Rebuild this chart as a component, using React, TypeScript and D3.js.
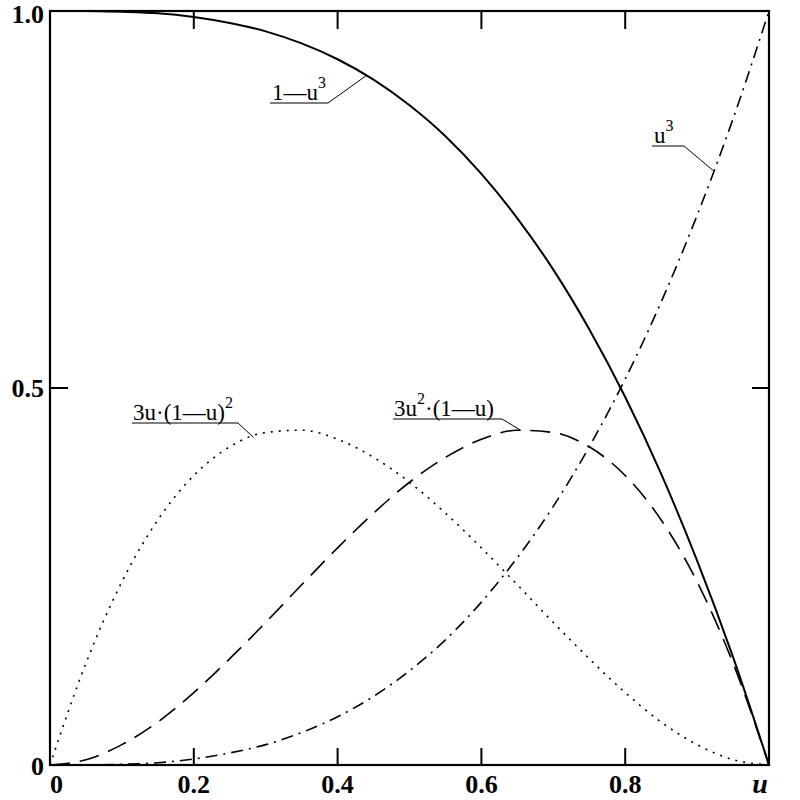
import React from "react";
import * as d3 from "d3";

// sampled parameter values
const uValues = [0, 0.05, 0.1, 0.15, 0.2, 0.25, 0.3, 0.35, 0.4, 0.45, 0.5, 0.55, 0.6, 0.65, 0.7, 0.75, 0.8, 0.85, 0.9, 0.95, 1];
// series
const oneMinusU3 = [1, 1.0, 0.999, 0.997, 0.992, 0.984, 0.973, 0.957, 0.936, 0.909, 0.875, 0.834, 0.784, 0.725, 0.657, 0.578, 0.488, 0.386, 0.271, 0.143, 0];
const threeU1mU2 = [0, 0.135, 0.243, 0.325, 0.384, 0.422, 0.441, 0.444, 0.432, 0.408, 0.375, 0.334, 0.288, 0.239, 0.189, 0.141, 0.096, 0.057, 0.027, 0.007, 0];
const threeU21mU = [0, 0.007, 0.027, 0.057, 0.096, 0.141, 0.189, 0.239, 0.288, 0.334, 0.375, 0.408, 0.432, 0.444, 0.441, 0.422, 0.384, 0.325, 0.243, 0.135, 0];
const uCubed = [0, 0.0001, 0.001, 0.003, 0.008, 0.016, 0.027, 0.043, 0.064, 0.091, 0.125, 0.166, 0.216, 0.275, 0.343, 0.422, 0.512, 0.614, 0.729, 0.857, 1];

const xTicks = [0, 0.2, 0.4, 0.6, 0.8];
const xTickLabels = ["0", "0.2", "0.4", "0.6", "0.8"];
const yTicks = [0, 0.5, 1];
const yTickLabels = ["0", "0.5", "1.0"];

const left = 50, right = 769, top = 11, bottom = 765;

export default function App() {
  const x = d3.scaleLinear().domain([0, 1]).range([left, right]);
  const y = d3.scaleLinear().domain([0, 1]).range([bottom, top]);
  const line = (vals: number[]) =>
    d3.line<number>().x((_, i) => x(uValues[i])).y((v) => y(v)).curve(d3.curveMonotoneX)(vals) || "";

  const serif = "'Liberation Serif', 'Times New Roman', serif";

  const interp = (vals: number[], u: number) => {
    const i = Math.min(uValues.length - 2, Math.floor(u / 0.05));
    const t = (u - uValues[i]) / 0.05;
    return vals[i] + t * (vals[i + 1] - vals[i]);
  };
  const labels = [
    { vals: oneMinusU3, u: 0.44, ux1: 270, ux2: 328, uy: 103, tx: 272, parts: [["1—u", false], ["3", true]] },
    { vals: uCubed, u: 0.923, ux1: 652, ux2: 684, uy: 146, tx: 654, parts: [["u", false], ["3", true]] },
    { vals: threeU1mU2, u: 0.283, ux1: 132, ux2: 238, uy: 423, tx: 133, parts: [["3u·(1—u)", false], ["2", true]] },
    { vals: threeU21mU, u: 0.655, ux1: 393, ux2: 502, uy: 419, tx: 394, parts: [["3u", false], ["2", true], ["·(1—u)", false]] },
  ] as const;

  const fs = 23, sfs = 16;

  return (
    <svg width={800} height={800} style={{ position: "absolute", left: 0, top: 0, background: "#fff" }}>
      <rect x={0} y={0} width={800} height={800} fill="#fff" />
      {/* curves */}
      <path d={line(oneMinusU3)} fill="none" stroke="#000" strokeWidth={2} />
      <path d={line(uCubed)} fill="none" stroke="#000" strokeWidth={1.6} strokeDasharray="12,6,2,6" />
      <path d={line(threeU1mU2)} fill="none" stroke="#000" strokeWidth={1.6} strokeDasharray="2,6" />
      <path d={line(threeU21mU)} fill="none" stroke="#000" strokeWidth={1.6} strokeDasharray="20,10" />

      {/* frame */}
      <rect x={left} y={top} width={right - left} height={bottom - top} fill="none" stroke="#000" strokeWidth={2.2} />
      {xTicks.slice(1).map((t) => (
        <g key={"xt" + t}>
          <line x1={x(t)} x2={x(t)} y1={bottom} y2={bottom - 17} stroke="#000" strokeWidth={2} />
          <line x1={x(t)} x2={x(t)} y1={top} y2={top + 18} stroke="#000" strokeWidth={2} />
        </g>
      ))}
      {yTicks.slice(1, 2).map((t) => (
        <g key={"yt" + t}>
          <line x1={left} x2={left + 18} y1={y(t)} y2={y(t)} stroke="#000" strokeWidth={2} />
          <line x1={right} x2={right - 17} y1={y(t)} y2={y(t)} stroke="#000" strokeWidth={2} />
        </g>
      ))}

      {/* tick labels */}
      {xTicks.map((t, i) => (
        <text key={"xl" + t} x={x(t)} y={793} textAnchor={i === 0 ? "start" : "middle"}
          fontFamily={serif} fontWeight="bold" fontSize={26}>{xTickLabels[i]}</text>
      ))}
      <text x={760} y={793} textAnchor="middle" fontFamily={serif} fontWeight="bold" fontStyle="italic" fontSize={28}>u</text>
      {yTicks.map((t, i) => (
        <text key={"yl" + t} x={44} y={i === 0 ? 775 : y(t) + (i === 2 ? 12 : 9)} textAnchor="end"
          fontFamily={serif} fontWeight="bold" fontSize={26}>{yTickLabels[i]}</text>
      ))}

      {/* curve labels */}
      {labels.map((l, k) => {
        const ax = x(l.u), ay = y(interp(l.vals as unknown as number[], l.u));
        return (
          <g key={"lab" + k}>
            <line x1={l.ux1} x2={l.ux2} y1={l.uy} y2={l.uy} stroke="#000" strokeWidth={1} />
            <line x1={l.ux2} x2={ax} y1={l.uy} y2={ay} stroke="#000" strokeWidth={1} />
            <text x={l.tx} y={l.uy - 3} fontFamily={serif} fontSize={fs}>
              {l.parts.map((p, j) => (
                <tspan key={j} fontSize={p[1] ? sfs : fs}
                  dy={p[1] ? -12 : (j > 0 ? 12 : 0)}>{p[0]}</tspan>
              ))}
            </text>
          </g>
        );
      })}
    </svg>
  );
}
